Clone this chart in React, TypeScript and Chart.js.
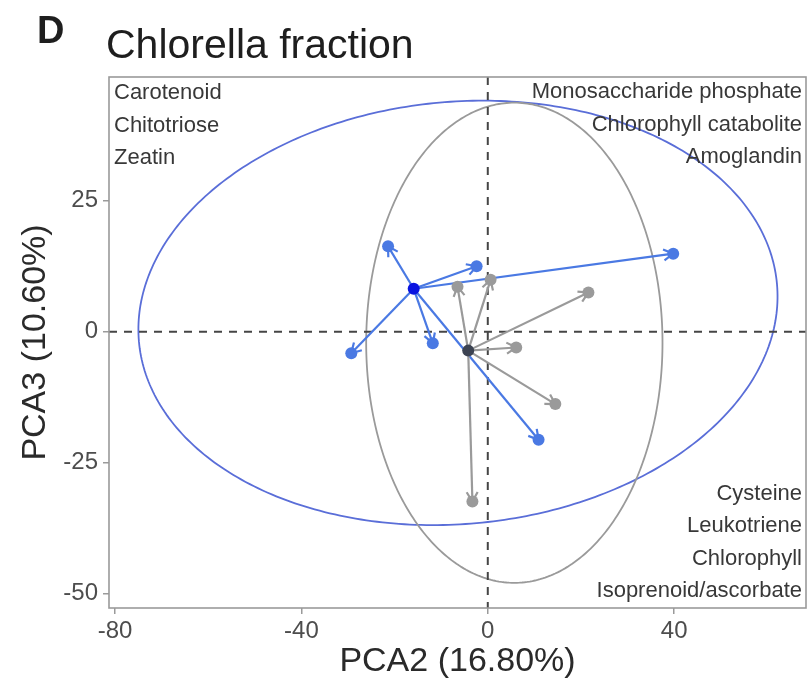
import React, { useEffect, useRef } from "react";
import { Chart, registerables } from "chart.js";

Chart.register(...registerables);

// Axis ranges and tick marks
const X_RANGE = [-81.3, 68.3];
const Y_RANGE = [-52.7, 48.6];
const X_TICKS = [-80, -40, 0, 40];
const Y_TICKS = [-50, -25, 0, 25];

// PCA scores: group centroids and the samples they point to
const BLUE_CENTER = { x: -15.9, y: 8.2 };
const BLUE_SAMPLES = [
  { x: -21.4, y: 16.3 },
  { x: -2.4, y: 12.5 },
  { x: 39.8, y: 14.9 },
  { x: -29.3, y: -4.1 },
  { x: -11.8, y: -2.2 },
  { x: 10.9, y: -20.6 },
];
const GREY_CENTER = { x: -4.2, y: -3.6 };
const GREY_SAMPLES = [
  { x: -6.5, y: 8.6 },
  { x: 0.6, y: 9.9 },
  { x: 21.6, y: 7.5 },
  { x: 6.1, y: -3.0 },
  { x: 14.5, y: -13.8 },
  { x: -3.3, y: -32.4 },
];

// Confidence ellipses (data units): centre, semi-axes, rotation in degrees
const ELLIPSE_CENTERS = [
  { x: -6.4, y: 3.6 },
  { x: 5.7, y: -2.1 },
];
const ELLIPSE_RADII = [
  { x: 68.7, y: 40.3 },
  { x: 31.8, y: 45.8 },
];
const ELLIPSE_ANGLES = [4, 0];

// Corner annotations
const TOP_LEFT_LABELS = ["Carotenoid", "Chitotriose", "Zeatin"];
const TOP_RIGHT_LABELS = ["Monosaccharide phosphate", "Chlorophyll catabolite", "Amoglandin"];
const BOTTOM_RIGHT_LABELS = ["Cysteine", "Leukotriene", "Chlorophyll", "Isoprenoid/ascorbate"];

const TITLE = "Chlorella fraction";
const PANEL_TAG = "D";
const X_TITLE = "PCA2 (16.80%)";
const Y_TITLE = "PCA3 (10.60%)";

const FONT = "'Liberation Sans', Arial, Helvetica, sans-serif";
const BLUE = "#4a79e3";
const BLUE_DARK = "#0a14e0";
const BLUE_ELLIPSE = "#5a6ed8";
const GREY = "#9a9a9a";
const GREY_DARK = "#3c4352";

const overlayPlugin = {
  id: "pcaOverlay",
  beforeDatasetsDraw(chart: any) {
    const { ctx, chartArea: a, scales } = chart;
    const xs = scales.x;
    const ys = scales.y;
    ctx.save();
    ctx.beginPath();
    ctx.rect(a.left, a.top, a.right - a.left, a.bottom - a.top);
    ctx.clip();

    // ellipses
    const colors = [BLUE_ELLIPSE, GREY];
    ELLIPSE_CENTERS.forEach((c, i) => {
      const r = ELLIPSE_RADII[i];
      const th = (ELLIPSE_ANGLES[i] * Math.PI) / 180;
      ctx.beginPath();
      for (let k = 0; k <= 360; k++) {
        const t = (k * Math.PI) / 180;
        const ex = r.x * Math.cos(t);
        const ey = r.y * Math.sin(t);
        const dx = ex * Math.cos(th) - ey * Math.sin(th);
        const dy = ex * Math.sin(th) + ey * Math.cos(th);
        const px = xs.getPixelForValue(c.x + dx);
        const py = ys.getPixelForValue(c.y + dy);
        if (k === 0) ctx.moveTo(px, py);
        else ctx.lineTo(px, py);
      }
      ctx.closePath();
      ctx.strokeStyle = colors[i];
      ctx.lineWidth = 1.8;
      ctx.stroke();
    });

    // zero reference lines
    ctx.setLineDash([8, 7]);
    ctx.strokeStyle = "#454545";
    ctx.lineWidth = 2;
    const x0 = xs.getPixelForValue(0);
    const y0 = ys.getPixelForValue(0);
    ctx.beginPath();
    ctx.moveTo(x0, a.top);
    ctx.lineTo(x0, a.bottom);
    ctx.stroke();
    ctx.beginPath();
    ctx.moveTo(a.left, y0);
    ctx.lineTo(a.right, y0);
    ctx.stroke();
    ctx.setLineDash([]);

    // arrowheads at each sample
    const heads = (center: any, pts: any[], color: string) => {
      const cx = xs.getPixelForValue(center.x);
      const cy = ys.getPixelForValue(center.y);
      ctx.strokeStyle = color;
      ctx.lineWidth = 2.2;
      pts.forEach((p) => {
        const px = xs.getPixelForValue(p.x);
        const py = ys.getPixelForValue(p.y);
        const ang = Math.atan2(py - cy, px - cx);
        const len = 11;
        const spread = Math.PI / 6;
        ctx.beginPath();
        ctx.moveTo(px - len * Math.cos(ang - spread), py - len * Math.sin(ang - spread));
        ctx.lineTo(px, py);
        ctx.lineTo(px - len * Math.cos(ang + spread), py - len * Math.sin(ang + spread));
        ctx.stroke();
      });
    };
    heads(GREY_CENTER, GREY_SAMPLES, GREY);
    heads(BLUE_CENTER, BLUE_SAMPLES, BLUE);
    ctx.restore();
  },
  afterDraw(chart: any) {
    const { ctx, chartArea: a } = chart;
    ctx.save();
    // panel border
    ctx.strokeStyle = "#9a9a9a";
    ctx.lineWidth = 1.6;
    ctx.strokeRect(a.left, a.top, a.right - a.left, a.bottom - a.top);

    // corner annotations
    ctx.fillStyle = "#383838";
    ctx.font = `22px ${FONT}`;
    ctx.textBaseline = "alphabetic";
    ctx.textAlign = "left";
    TOP_LEFT_LABELS.forEach((t, i) => ctx.fillText(t, a.left + 5, a.top + 22 + i * 32.5));
    ctx.textAlign = "right";
    TOP_RIGHT_LABELS.forEach((t, i) => ctx.fillText(t, a.right - 4, a.top + 21 + i * 32.5));
    const n = BOTTOM_RIGHT_LABELS.length;
    BOTTOM_RIGHT_LABELS.forEach((t, i) =>
      ctx.fillText(t, a.right - 4, a.bottom - 11 - (n - 1 - i) * 32.5)
    );

    // titles
    ctx.fillStyle = "#1e1e1e";
    ctx.textAlign = "left";
    ctx.font = `bold 38px ${FONT}`;
    ctx.fillText(PANEL_TAG, 37, 43);
    ctx.font = `41px ${FONT}`;
    ctx.fillText(TITLE, 106, 58);

    // axis titles
    ctx.fillStyle = "#2a2a2a";
    ctx.font = `34px ${FONT}`;
    ctx.textAlign = "center";
    ctx.fillText(X_TITLE, (a.left + a.right) / 2, 671);
    ctx.translate(45, (a.top + a.bottom) / 2);
    ctx.rotate(-Math.PI / 2);
    ctx.fillText(Y_TITLE, 0, 0);
    ctx.restore();
  },
};

export default function App() {
  const ref = useRef<HTMLCanvasElement | null>(null);

  useEffect(() => {
    if (!ref.current) return;
    const arrowSets = (center: any, pts: any[], color: string) =>
      pts.map((p) => ({
        data: [center, p],
        showLine: true,
        borderColor: color,
        borderWidth: 2.2,
        pointRadius: 0,
        order: 2,
      }));

    const datasets: any[] = [
      {
        data: BLUE_SAMPLES,
        pointRadius: 6,
        backgroundColor: BLUE,
        borderColor: BLUE,
        borderWidth: 0,
        order: 1,
      },
      {
        data: GREY_SAMPLES,
        pointRadius: 6,
        backgroundColor: GREY,
        borderColor: GREY,
        borderWidth: 0,
        order: 1,
      },
      {
        data: [BLUE_CENTER],
        pointRadius: 6,
        backgroundColor: BLUE_DARK,
        borderColor: BLUE_DARK,
        borderWidth: 0,
        order: 0,
      },
      {
        data: [GREY_CENTER],
        pointRadius: 6,
        backgroundColor: GREY_DARK,
        borderColor: GREY_DARK,
        borderWidth: 0,
        order: 0,
      },
      ...arrowSets(GREY_CENTER, GREY_SAMPLES, GREY),
      ...arrowSets(BLUE_CENTER, BLUE_SAMPLES, BLUE),
    ];

    const tickFont = { size: 24, family: FONT };
    const chart = new Chart(ref.current, {
      type: "scatter",
      data: { datasets },
      options: {
        animation: false,
        responsive: false,
        maintainAspectRatio: false,
        layout: { padding: { top: 77, right: 1, left: 0, bottom: 0 } },
        plugins: {
          legend: { display: false },
          tooltip: { enabled: false },
          title: { display: false },
        },
        scales: {
          x: {
            type: "linear",
            min: X_RANGE[0],
            max: X_RANGE[1],
            afterBuildTicks: (s: any) => {
              s.ticks = X_TICKS.map((v) => ({ value: v }));
            },
            afterFit: (s: any) => {
              s.height = 76;
            },
            grid: {
              drawOnChartArea: false,
              drawTicks: true,
              tickLength: 6,
              color: "#9a9a9a",
              lineWidth: 1.5,
            },
            border: { display: false },
            ticks: {
              font: tickFont,
              color: "#4d4d4d",
              padding: 3,
              maxRotation: 0,
              autoSkip: false,
            },
          },
          y: {
            type: "linear",
            min: Y_RANGE[0],
            max: Y_RANGE[1],
            afterBuildTicks: (s: any) => {
              s.ticks = Y_TICKS.map((v) => ({ value: v }));
            },
            afterFit: (s: any) => {
              s.width = 109;
            },
            grid: {
              drawOnChartArea: false,
              drawTicks: true,
              tickLength: 6,
              color: "#9a9a9a",
              lineWidth: 1.5,
            },
            border: { display: false },
            ticks: {
              font: tickFont,
              color: "#4d4d4d",
              padding: 5,
              autoSkip: false,
            },
          },
        },
      } as any,
      plugins: [overlayPlugin],
    });
    return () => chart.destroy();
  }, []);

  return (
    <div style={{ position: "absolute", left: 0, top: 0, width: 812, height: 684, background: "#fff" }}>
      <canvas ref={ref} width={812} height={684} style={{ display: "block" }} />
    </div>
  );
}
